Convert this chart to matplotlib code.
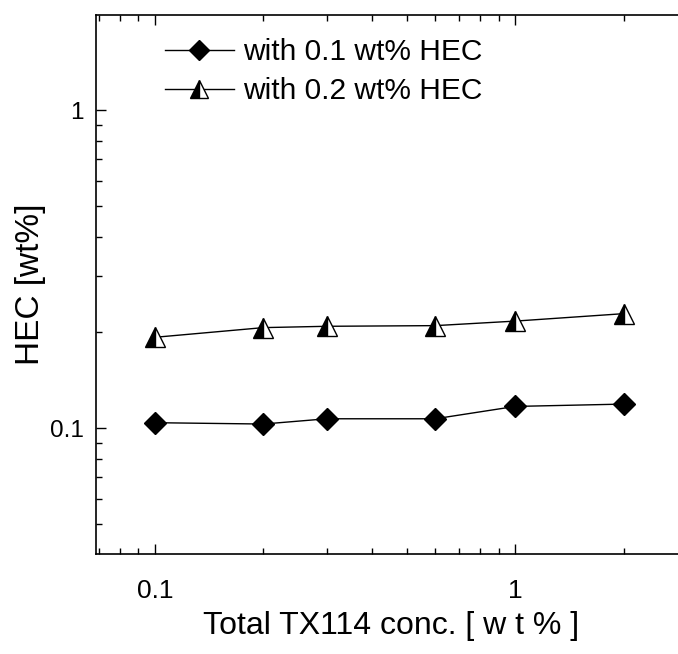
import numpy as np
import matplotlib
matplotlib.use("Agg")
import matplotlib.pyplot as plt
from matplotlib.ticker import LogLocator, FixedLocator, FixedFormatter, NullFormatter

plt.rcParams['font.family'] = ['Liberation Sans', 'DejaVu Sans']

# TX114 concentration [wt%]
tx114 = [0.1, 0.2, 0.3, 0.6, 1.0, 2.0]
# HEC in phase [wt%]
hec_01 = [0.104, 0.103, 0.107, 0.107, 0.117, 0.119]
hec_02 = [0.193, 0.207, 0.209, 0.210, 0.217, 0.229]

fig = plt.figure(figsize=(6.78, 6.54), dpi=100)
W, H = 678, 654
# axes box in pixels: left 96, right ~687 (cut by figure edge), top 15, bottom 554
ax = fig.add_axes([96 / W, 1 - 554 / H, (687 - 96) / W, (554 - 15) / H])

ax.plot(tx114, hec_01, color='black', lw=1.0, marker='D', ms=11.5,
        mfc='black', mec='black', label='with 0.1 wt% HEC')
ax.plot(tx114, hec_02, color='black', lw=1.0, marker='^', ms=15,
        fillstyle='left', mfc='black', mfcalt='white', mec='black', mew=1.0,
        label='with 0.2 wt% HEC')

ax.set_xscale('log')
ax.set_yscale('log')
ax.set_xlim(0.0686, 3.0)
ax.set_ylim(0.0402, 1.99)

ax.xaxis.set_major_locator(FixedLocator([0.1, 1]))
ax.xaxis.set_major_formatter(FixedFormatter(['0.1', '1']))
ax.xaxis.set_minor_locator(LogLocator(base=10, subs=np.arange(2, 10), numticks=20))
ax.xaxis.set_minor_formatter(NullFormatter())
ax.yaxis.set_major_locator(FixedLocator([0.1, 1]))
ax.yaxis.set_major_formatter(FixedFormatter(['0.1', '1']))
ax.yaxis.set_minor_locator(LogLocator(base=10, subs=np.arange(2, 10), numticks=20))
ax.yaxis.set_minor_formatter(NullFormatter())

ax.spines['right'].set_visible(False)
for s in ['left', 'top', 'bottom']:
    ax.spines[s].set_linewidth(1.2)

ax.tick_params(which='both', direction='in', top=True, right=False, width=1.0)
ax.tick_params(which='major', length=7)
ax.tick_params(which='minor', length=4)
ax.tick_params(axis='x', which='major', labelsize=19, pad=18)
ax.tick_params(axis='y', which='major', labelsize=17.5, pad=9)

ax.set_xlabel('Total TX114 conc. [ w t % ]', fontsize=23, labelpad=6)
ax.set_ylabel('HEC [wt%]', fontsize=24)
ax.yaxis.set_label_coords(-0.085, 0.5)

ax.legend(loc='upper left', bbox_to_anchor=(165 / W, 1 - 38 / H),
          bbox_transform=fig.transFigure, frameon=False, fontsize=21.5,
          borderpad=0, borderaxespad=0, handlelength=2.3, handletextpad=0.3,
          labelspacing=0.38, markerscale=0.85)

fig.savefig('out.png', dpi=100)
